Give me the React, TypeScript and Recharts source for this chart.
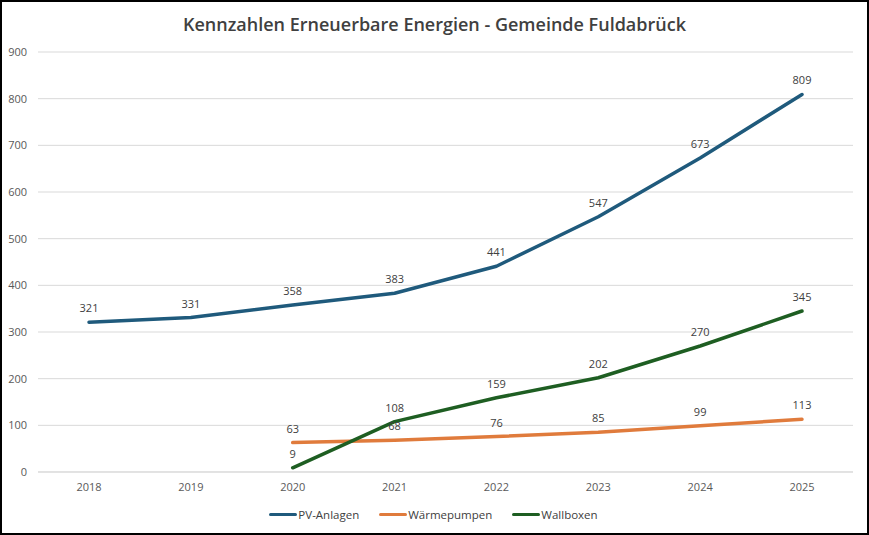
import React from "react";
import {
  LineChart,
  Line,
  XAxis,
  YAxis,
  CartesianGrid,
  LabelList,
  Legend,
} from "recharts";

const years = ["2018", "2019", "2020", "2021", "2022", "2023", "2024", "2025"];
const pvAnlagen = [321, 331, 358, 383, 441, 547, 673, 809];
const waermepumpen = [null, null, 63, 68, 76, 85, 99, 113];
const wallboxen = [null, null, 9, 108, 159, 202, 270, 345];
const yTicks = [0, 100, 200, 300, 400, 500, 600, 700, 800, 900];

const series = [
  { key: "pv", name: "PV-Anlagen", color: "#1f5a7c" },
  { key: "wp", name: "Wärmepumpen", color: "#e07b3c" },
  { key: "wb", name: "Wallboxen", color: "#1e5e22" },
];

const data = years.map((year, i) => ({
  year,
  pv: pvAnlagen[i],
  wp: waermepumpen[i],
  wb: wallboxen[i],
}));

const FONT = "'Open Sans', 'Liberation Sans', sans-serif";

const CustomLegend = () => (
  <div
    style={{
      display: "flex",
      justifyContent: "center",
      gap: 20,
      paddingTop: 7,
      paddingLeft: 14,
      fontFamily: FONT,
      fontSize: 11.5,
      color: "#404040",
    }}
  >
    {series.map((s) => (
      <div key={s.key} style={{ display: "flex", alignItems: "center", gap: 1 }}>
        <span
          style={{
            display: "inline-block",
            width: 28,
            height: 3,
            borderRadius: 2,
            background: s.color,
          }}
        />
        <span>{s.name}</span>
      </div>
    ))}
  </div>
);

export default function App() {
  return (
    <>
      <style>{`body{margin:0}`}</style>
      <div
        style={{
          position: "relative",
          width: 869,
          height: 535,
          boxSizing: "border-box",
          border: "2px solid #000",
          background: "#fff",
        }}
      >
        <div
          style={{
            position: "absolute",
            top: 10,
            left: 0,
            width: "100%",
            textAlign: "center",
            fontFamily: FONT,
            fontWeight: 600,
            fontSize: 18,
            color: "#404040",
          }}
        >
          Kennzahlen Erneuerbare Energien - Gemeinde Fuldabrück
        </div>
        <div style={{ position: "absolute", left: -2, top: -2 }}>
          <LineChart
            width={869}
            height={535}
            data={data}
            margin={{ top: 52, right: 16, bottom: 8, left: 0 }}
          >
            <CartesianGrid vertical={false} stroke="#d9d9d9" />
            <XAxis
              dataKey="year"
              padding={{ left: 51, right: 51 }}
              tickLine={false}
              axisLine={{ stroke: "#d9d9d9" }}
              tick={{ fill: "#595959", fontSize: 11, fontFamily: FONT }}
              tickMargin={5}
              height={28}
            />
            <YAxis
              domain={[0, 900]}
              ticks={yTicks}
              width={38}
              tickLine={false}
              axisLine={false}
              tickSize={0}
              tickMargin={11}
              tick={{ fill: "#595959", fontSize: 11, fontFamily: FONT }}
            />
            <Legend
              verticalAlign="bottom"
              height={27}
              content={<CustomLegend />}
            />
            {series.map((s) => (
              <Line
                key={s.key}
                type="linear"
                dataKey={s.key}
                name={s.name}
                stroke={s.color}
                strokeWidth={3.5}
                strokeLinejoin="round"
                strokeLinecap="round"
                dot={false}
                activeDot={false}
                connectNulls={false}
                isAnimationActive={false}
              >
                <LabelList
                  dataKey={s.key}
                  position="top"
                  offset={10}
                  style={{ fill: "#404040", fontSize: 11, fontFamily: FONT }}
                />
              </Line>
            ))}
          </LineChart>
        </div>
      </div>
    </>
  );
}
